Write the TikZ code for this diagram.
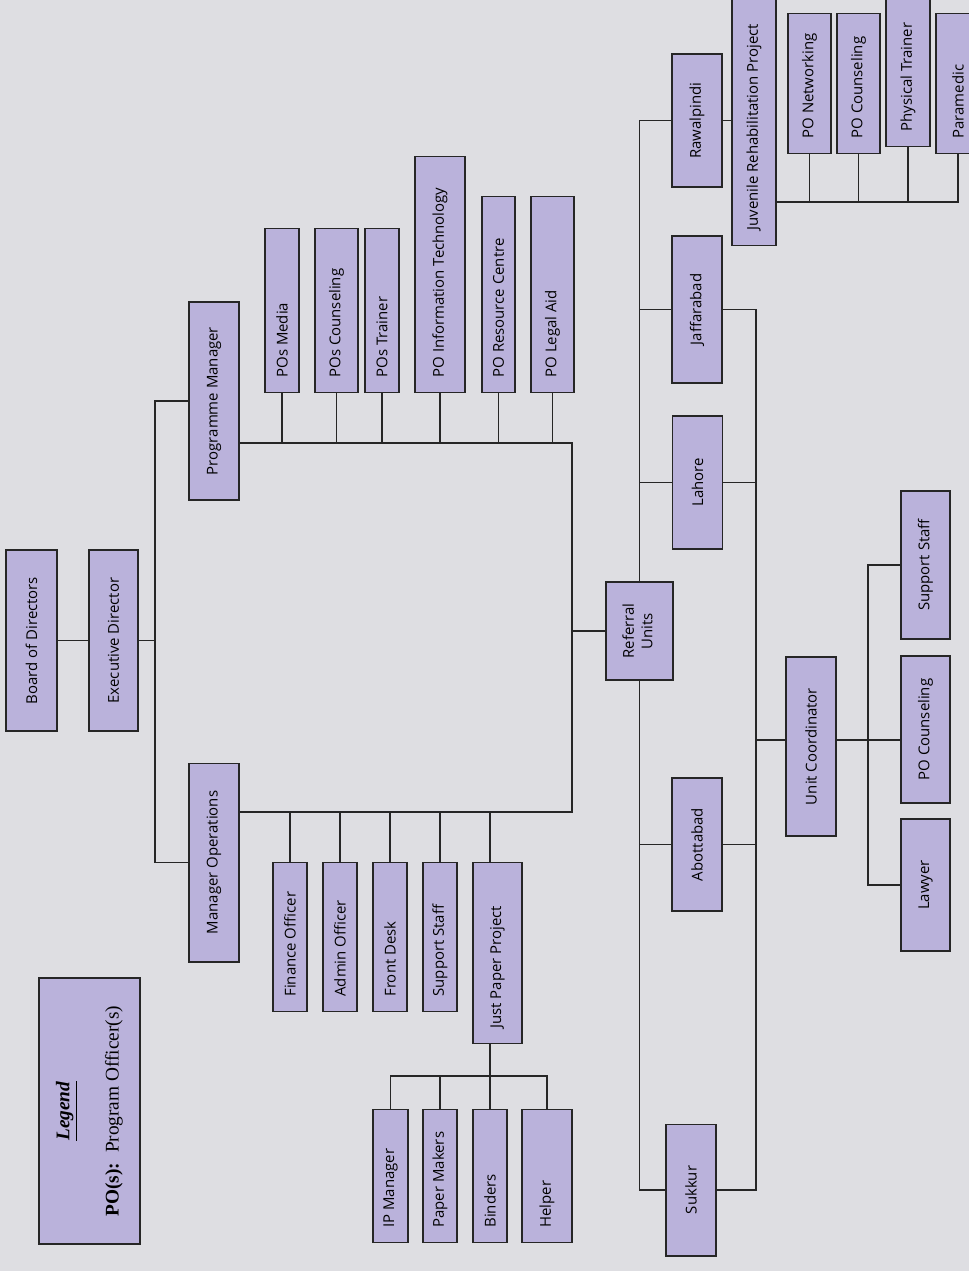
\documentclass[tikz,border=0pt]{standalone}
\usepackage{fontspec}
\setmainfont{Liberation Serif}
\setsansfont{Open Sans}
\usepackage{graphicx}
\definecolor{paper}{RGB}{222,222,226}
\definecolor{lilac}{RGB}{186,178,219}
\newcommand{\up}[1]{\rotatebox{90}{#1}}

\begin{document}
\begin{tikzpicture}[x=0.02cm, y=-0.02cm,
    every node/.style={draw=black!85, fill=lilac, line width=0.6pt, inner sep=0pt,
        font=\sffamily\fontsize{8.5}{10.5}\selectfont},
    low/.style={inner ysep=0.3cm, text depth=0pt},
    link/.style={draw=black!85, line width=0.6pt}
]
\useasboundingbox (0,0) rectangle (969,1271);
\fill[paper] (0,0) rectangle (969,1271);

% top of the chart
\node[minimum width=1.02cm, minimum height=3.62cm] (board) at (31.5,640.5) {\up{Board of Directors}};
\node[minimum width=0.98cm, minimum height=3.62cm] (exec) at (113.5,640.5) {\up{Executive Director}};
\node[minimum width=1cm, minimum height=3.96cm] (pm) at (214,401) {\up{Programme Manager}};
\node[minimum width=1cm, minimum height=3.98cm] (mo) at (214,862.5) {\up{Manager Operations}};

% programme side
\node[low, anchor=south, minimum width=0.68cm, text height=2.68cm] (media) at (282,393) {\up{POs Media}};
\node[low, anchor=south, minimum width=0.86cm, text height=2.68cm] (pcouns) at (336.5,393) {\up{POs Counseling}};
\node[low, anchor=south, minimum width=0.68cm, text height=2.68cm] (trainer) at (382,393) {\up{POs Trainer}};
\node[low, anchor=south, minimum width=1cm, text height=4.12cm] (infotech) at (440,393) {\up{PO Information Technology}};
\node[low, anchor=south, minimum width=0.66cm, text height=3.32cm] (resource) at (498.5,393) {\up{PO Resource Centre}};
\node[low, anchor=south, minimum width=0.86cm, text height=3.32cm] (legal) at (552.5,393) {\up{PO Legal Aid}};

% operations side
\node[low, anchor=north, minimum width=0.68cm, text height=2.38cm] (finance) at (290,862) {\up{Finance Officer}};
\node[low, anchor=north, minimum width=0.68cm, text height=2.38cm] (admin) at (340,862) {\up{Admin Officer}};
\node[low, anchor=north, minimum width=0.68cm, text height=2.38cm] (front) at (390,862) {\up{Front Desk}};
\node[low, anchor=north, minimum width=0.68cm, text height=2.38cm] (mosupport) at (440,862) {\up{Support Staff}};
\node[low, anchor=north, minimum width=0.98cm, text height=3.02cm] (jpp) at (497.5,862) {\up{Just Paper Project}};

\node[low, anchor=north, minimum width=0.7cm, text height=2.06cm] (ipman) at (390.5,1109) {\up{IP Manager}};
\node[low, anchor=north, minimum width=0.68cm, text height=2.06cm] (pmakers) at (440,1109) {\up{Paper Makers}};
\node[low, anchor=north, minimum width=0.68cm, text height=2.06cm] (binders) at (490,1109) {\up{Binders}};
\node[low, anchor=north, minimum width=1cm, text height=2.06cm] (helper) at (547,1109) {\up{Helper}};

% legend
\node[line width=1.6pt, minimum width=2.02cm, minimum height=5.32cm,
    font=\rmfamily\fontsize{11}{13}\selectfont] (legend) at (89.5,1111)
    {\up{\begin{tabular}{@{}c@{}}\underline{\textbf{\textit{Legend}}}\\[15pt]\textbf{PO(s):}\ \ Program Officer(s)\end{tabular}}};

% referral units
\node[minimum width=1.34cm, minimum height=1.96cm] (referral) at (639.5,631)
    {\up{\begin{tabular}{@{}c@{}}Referral\\Units\end{tabular}}};
\node[minimum width=1cm, minimum height=2.66cm] (rawal) at (697,120.5) {\up{Rawalpindi}};
\node[minimum width=1cm, minimum height=2.94cm] (jaffar) at (697,309.5) {\up{Jaffarabad}};
\node[minimum width=1cm, minimum height=2.66cm] (lahore) at (697.5,482.5) {\up{Lahore}};
\node[minimum width=1cm, minimum height=2.66cm] (abott) at (697,844.5) {\up{Abottabad}};
\node[minimum width=1cm, minimum height=2.64cm] (sukkur) at (691,1190) {\up{Sukkur}};

\node[low, anchor=south, minimum width=0.88cm, text height=4.4cm] (jrp) at (754,246) {\up{Juvenile Rehabilitation Project}};
\node[low, anchor=south, minimum width=0.86cm, text height=2.2cm] (ponet) at (809.5,154) {\up{PO Networking}};
\node[low, anchor=south, minimum width=0.86cm, text height=2.2cm] (jrpcouns) at (858.5,154) {\up{PO Counseling}};
\node[low, anchor=south, minimum width=0.88cm, text height=2.5cm] (phys) at (908,147) {\up{Physical Trainer}};
\node[low, anchor=south, minimum width=0.88cm, text height=2.2cm] (paramedic) at (958,154) {\up{Paramedic}};

\node[minimum width=1cm, minimum height=3.58cm] (uc) at (811,746.5) {\up{Unit Coordinator}};
\node[minimum width=0.98cm, minimum height=2.96cm] (ucsupport) at (925.5,565) {\up{Support Staff}};
\node[minimum width=0.98cm, minimum height=2.94cm] (uccouns) at (925.5,729.5) {\up{PO Counseling}};
\node[minimum width=0.98cm, minimum height=2.64cm] (lawyer) at (925.5,885) {\up{Lawyer}};

% joints
\coordinate (lspine) at (155,640.5);
\coordinate (ne) at (572,443);
\coordinate (se) at (572,812);
\coordinate (jppbus) at (490,1076);
\coordinate (rspine) at (756,740);
\coordinate (jrpbus) at (776,202);
\coordinate (ucspine) at (868,740);

% connectors
\draw[link] (board) -- (exec);
\draw[link] (exec) -- (lspine);
\draw[link] (pm.west) -| (lspine) |- (mo.west);
\draw[link] (pm.east |- ne) -- (ne) -- (se) -- (mo.east |- se);
\draw[link] (referral.west) -- (referral.west -| ne);
\foreach \k in {media,pcouns,trainer,infotech,resource,legal}
    \draw[link] (\k.south) -- (\k.south |- ne);
\foreach \k in {finance,admin,front,mosupport}
    \draw[link] (\k.north) -- (\k.north |- se);
\draw[link] (jpp.north -| binders) -- (binders |- se);
\draw[link] (jpp.south -| binders) -- (binders.north);
\draw[link] (ipman.north) |- (jppbus) -| (helper.north);
\draw[link] (pmakers.north) -- (pmakers.north |- jppbus);

\draw[link] (rawal.west) -| (referral.north);
\draw[link] (referral.south) |- (sukkur.west);
\foreach \k in {jaffar,lahore,abott}
    \draw[link] (\k.west) -- (\k.west -| referral);
\draw[link] (jaffar.east) -| (rspine) |- (sukkur.east);
\draw[link] (lahore.east) -- (lahore.east -| rspine);
\draw[link] (abott.east) -- (abott.east -| rspine);
\draw[link] (rspine) -- (rspine -| uc.west);
\draw[link] (rawal.east) -- (rawal.east -| jrp.west);

\draw[link] (jrpbus) -| (paramedic.south);
\foreach \k in {ponet,jrpcouns,phys}
    \draw[link] (\k.south) -- (\k.south |- jrpbus);

\draw[link] (uc.east |- ucspine) -- (ucspine);
\draw[link] (ucsupport.west) -| (ucspine) |- (lawyer.west);
\draw[link] (ucspine) -- (ucspine -| uccouns.west);
\end{tikzpicture}
\end{document}
